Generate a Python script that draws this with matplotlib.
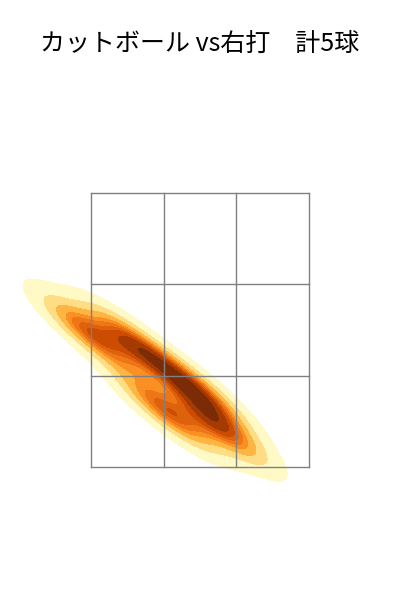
import matplotlib.pyplot as plt
import seaborn as sns
import numpy as np

plt.rcParams['font.family'] = ['Noto Sans CJK JP', 'DejaVu Sans']

title = "カットボール vs右打　計5球"
# 投球位置 (ゾーン幅 3 単位, -1.5..1.5 / 高さ 0..3)
px = [-1.5, -0.9, -0.45, -0.05, 0.25]
pz = [1.45, 1.35, 0.6, 0.85, 0.45]

fig = plt.figure(figsize=(4, 6), dpi=100)
ax = fig.add_axes([0, 0, 1, 1])

sns.kdeplot(x=px, y=pz, fill=True, cmap="YlOrBr", levels=10, thresh=0.05,
            bw_adjust=0.9, ax=ax)

# ストライクゾーン 3x3
for i in range(4):
    ax.plot([-1.5 + i, -1.5 + i], [0, 3], color="gray", lw=1)
    ax.plot([-1.5, 1.5], [i, i], color="gray", lw=1)

ax.set_xlim(-2.752, 2.752)
ax.set_ylim(-1.456, 5.113)
ax.axis("off")

fig.text(0.5, 1 - 44 / 600, title, ha="center", va="center", fontsize=18)
fig.savefig("out.png", dpi=100)
